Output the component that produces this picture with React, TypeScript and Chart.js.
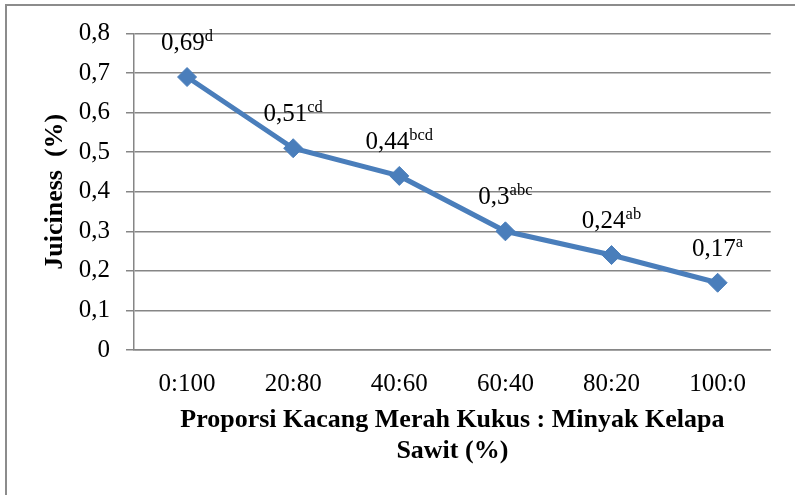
import React, { useEffect, useRef } from 'react';
import { Chart, registerables } from 'chart.js';

Chart.register(...registerables);

const categories = ['0:100', '20:80', '40:60', '60:40', '80:20', '100:0'];
const juiciness = [0.69, 0.51, 0.44, 0.3, 0.24, 0.17];
const valueLabels = ['0,69', '0,51', '0,44', '0,3', '0,24', '0,17'];
const significance = ['d', 'cd', 'bcd', 'abc', 'ab', 'a'];
const yTickLabels = ['0', '0,1', '0,2', '0,3', '0,4', '0,5', '0,6', '0,7', '0,8'];
const xTitle = ['Proporsi Kacang Merah Kukus : Minyak Kelapa', 'Sawit (%)'];
const yTitle = 'Juiciness  (%)';

const FAMILY = "'Liberation Serif', 'Times New Roman', serif";
const LINE_COLOR = '#4A7EBB';
const GRID_COLOR = '#868686';

const supLabelPlugin = {
  id: 'supLabels',
  afterDatasetsDraw(chart: any) {
    const ctx = chart.ctx;
    const meta = chart.getDatasetMeta(0);
    const mainFont = `25px ${FAMILY}`;
    const supFont = `16.5px ${FAMILY}`;
    meta.data.forEach((pt: any, i: number) => {
      ctx.save();
      ctx.fillStyle = '#000';
      ctx.textAlign = 'left';
      ctx.textBaseline = 'alphabetic';
      ctx.font = mainFont;
      const mw = ctx.measureText(valueLabels[i]).width;
      ctx.font = supFont;
      const sw = ctx.measureText(significance[i]).width;
      const x0 = pt.x - (mw + sw) / 2;
      const by = pt.y - 27;
      ctx.font = mainFont;
      ctx.fillText(valueLabels[i], x0, by);
      ctx.font = supFont;
      ctx.fillText(significance[i], x0 + mw, by - 9);
      ctx.restore();
    });
  },
};

export default function App() {
  const canvasRef = useRef<HTMLCanvasElement | null>(null);

  useEffect(() => {
    if (!canvasRef.current) return;
    const chart = new Chart(canvasRef.current, {
      type: 'line',
      data: {
        labels: categories,
        datasets: [
          {
            data: juiciness,
            borderColor: LINE_COLOR,
            backgroundColor: LINE_COLOR,
            borderWidth: 5,
            tension: 0,
            pointStyle: 'rectRot',
            pointRadius: 9.5,
            pointBackgroundColor: LINE_COLOR,
            pointBorderColor: LINE_COLOR,
            pointBorderWidth: 1,
          },
        ],
      },
      options: {
        animation: false,
        responsive: false,
        devicePixelRatio: 1,
        layout: { padding: { top: 33.5, right: 24.3, left: 0, bottom: 0 } },
        plugins: {
          legend: { display: false },
          tooltip: { enabled: false },
        },
        scales: {
          x: {
            type: 'category',
            offset: true,
            grid: { display: false },
            border: { display: true, color: GRID_COLOR, width: 1.5 },
            ticks: {
              color: '#000',
              font: { family: FAMILY, size: 25 },
              padding: 11,
              maxRotation: 0,
              autoSkip: false,
            },
            title: {
              display: true,
              text: xTitle,
              color: '#000',
              font: { family: FAMILY, size: 26, weight: 'bold' },
              padding: { top: 0, bottom: 28 },
            },
            afterFit: (s: any) => {
              s.height = 145;
            },
          },
          y: {
            min: 0,
            max: 0.8,
            grid: {
              color: GRID_COLOR,
              lineWidth: 1.5,
              drawTicks: true,
              tickLength: 8,
            },
            border: { display: true, color: GRID_COLOR, width: 1.5 },
            ticks: {
              stepSize: 0.1,
              color: '#000',
              font: { family: FAMILY, size: 25 },
              padding: 16,
              callback: (_v: any, idx: number) => yTickLabels[idx],
            },
            title: {
              display: true,
              text: yTitle,
              color: '#000',
              font: { family: FAMILY, size: 26, weight: 'bold' },
              padding: { top: 40, bottom: 0 },
            },
            afterFit: (s: any) => {
              s.width = 134;
            },
          },
        },
      },
      plugins: [supLabelPlugin],
    });
    return () => chart.destroy();
  }, []);

  return (
    <div
      style={{
        position: 'fixed',
        left: 0,
        top: 0,
        width: 795,
        height: 495,
        overflow: 'hidden',
        background: '#fff',
      }}
    >
      <div
        style={{
          position: 'absolute',
          left: 5,
          top: 4,
          width: 1000,
          height: 1000,
          border: '2px solid #8c8c8c',
        }}
      />
      <canvas
        ref={canvasRef}
        width={795}
        height={495}
        style={{ position: 'absolute', left: 0, top: 0, display: 'block' }}
      />
    </div>
  );
}
